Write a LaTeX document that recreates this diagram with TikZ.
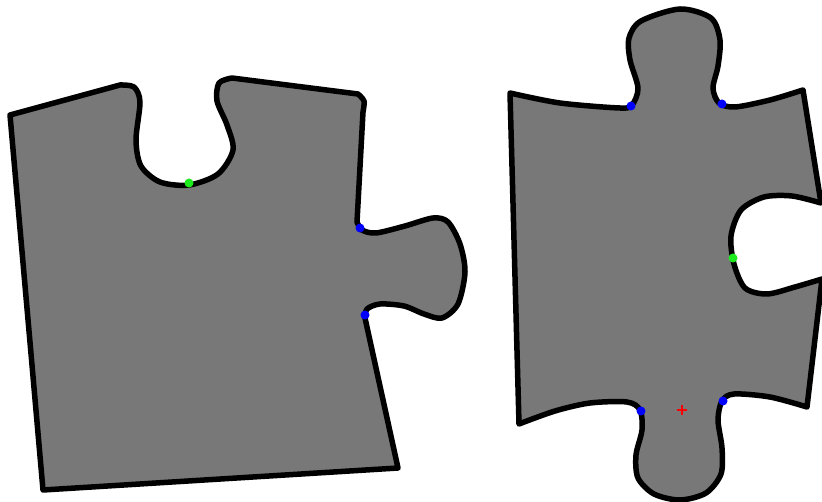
\documentclass[tikz,border=0pt]{standalone}
\usepackage{tikz}
\usetikzlibrary{positioning}
\usepackage{xcolor}
\definecolor{piecegray}{RGB}{120,120,120}
\definecolor{dotgreen}{RGB}{30,235,30}

\begin{document}
\begin{tikzpicture}[x=1pt,y=-1pt,
  piece/.style={draw=black,fill=piecegray,line width=5.5pt,line join=round},
  tabdot/.style={circle,fill=blue,inner sep=0pt,minimum size=9pt},
  slotdot/.style={circle,fill=dotgreen,inner sep=0pt,minimum size=9pt}]
\useasboundingbox (0,0) rectangle (822,502);
% left piece: socket on top, tab on the right
\draw[piece] (10,115)
  -- plot[smooth] coordinates {(120,85) (134,87) (140,102) (136,140) (141,166) (160,182) (189,185) (218,174) (233,150) (227,125) (217,101) (219,83) (232,78)}
  -- plot[smooth] coordinates {(358,94) (364,101) (363,112)}
  -- plot[smooth] coordinates {(357,222) (362,230) (376,233) (405,226) (433,218) (448,222) (460,244) (465,272) (458,304) (442,318) (424,314) (404,306) (380,304) (367,309) (365,318)}
  -- (398,468) -- (43,490) -- cycle;
% right piece: tabs top and bottom, socket on the right
\draw[piece] (510,93)
  -- plot[smooth] coordinates {(510,93) (560,103) (620,108) (632,105) (638,88) (630,60) (629,38) (641,21) (680,9) (711,18) (720,40) (718,66) (713,88) (719,103) (735,107) (770,100) (803,90)}
  -- plot[smooth] coordinates {(821,203) (792,196) (764,197) (741,210) (731,236) (734,264) (745,288) (767,294) (795,287) (822,279)}
  -- plot[smooth] coordinates {(807,407) (770,397) (734,394) (722,401) (718,420) (722,448) (721,474) (706,493) (680,500) (654,494) (638,478) (636,455) (642,430) (640,410) (627,402) (590,403) (555,411) (519,424)}
  -- cycle;
% contact points
\node[slotdot] (ls) at (189,183) {};
\node[tabdot] (lt1) at (360,228) {};
\node[tabdot] (lt2) at (365,315) {};
\node[tabdot] (rt1) at (631,106) {};
\node[tabdot] (rt2) at (722,104) {};
\node[slotdot] (rs) at (733,258) {};
\node[tabdot] (rb1) at (641,411) {};
\node[tabdot] (rb2) at (723,401) {};
% centre mark
\coordinate (mark) at (682,410);
\draw[red,line width=2pt] ([xshift=-5pt]mark) -- ([xshift=5pt]mark);
\draw[red,line width=2pt] ([yshift=-5pt]mark) -- ([yshift=5pt]mark);
\end{tikzpicture}
\end{document}
